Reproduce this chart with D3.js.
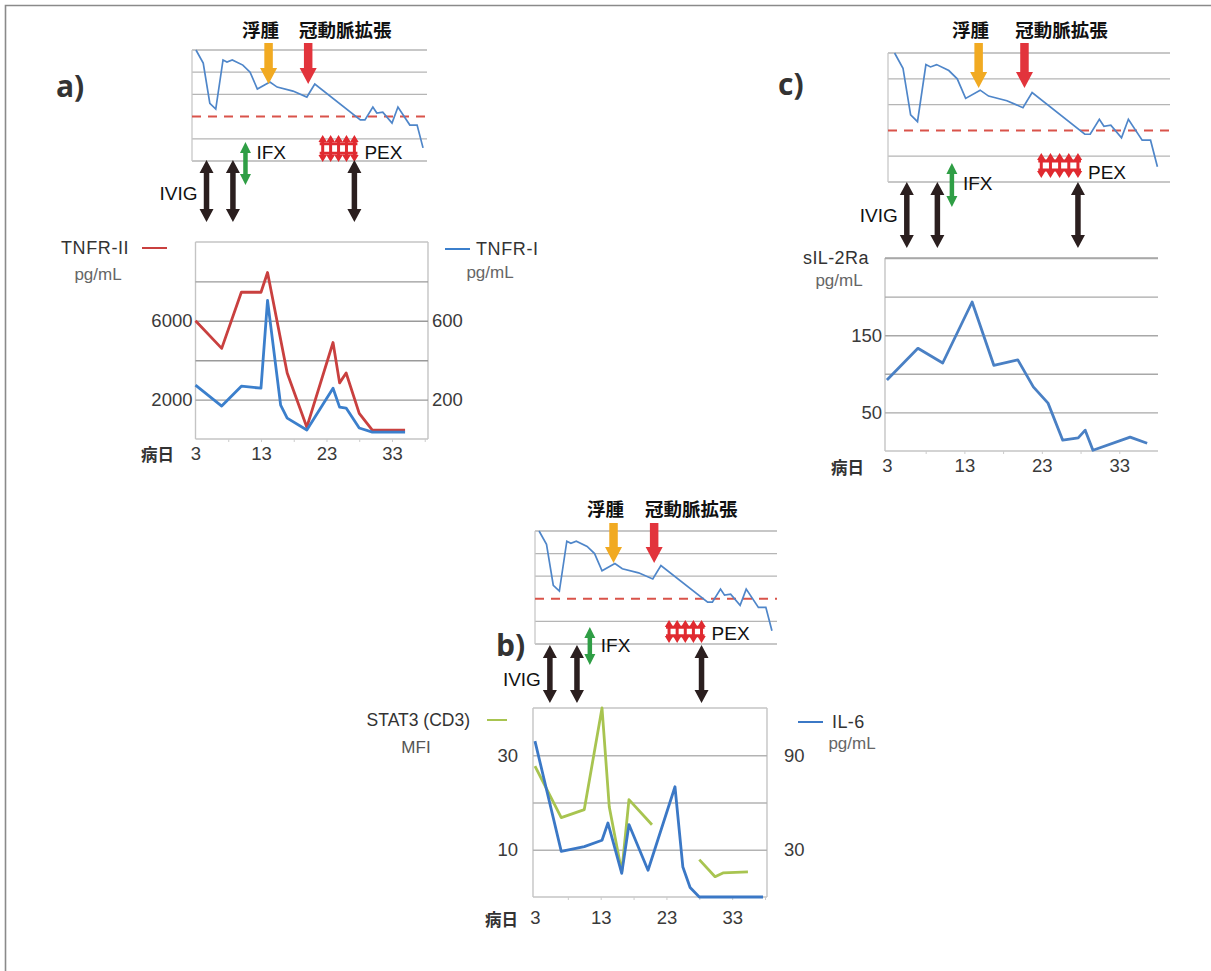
<!DOCTYPE html>
<html>
<head>
<meta charset="utf-8">
<script src="https://cdn.jsdelivr.net/npm/d3@7"></script>
<style>
  body { margin: 0; background: #fff; }
  svg text { font-family: "Liberation Sans", Arial, sans-serif; }
  svg text.jp { font-family: "Noto Sans CJK JP", sans-serif; font-weight: bold; }
  svg text.panel { font-family: "Open Sans", sans-serif; font-weight: bold; }
</style>
</head>
<body>
<svg id="chart" width="1211" height="971"></svg>
<script>

// clinical course strip (same in every panel), arbitrary units 0-5, cut-off at 2
var courseDays = [3, 4.1, 5.1, 6, 7.1, 7.7, 8.5, 10.1, 11.2, 12.3, 14.2, 15.3, 17.7, 19.8, 21, 27.9, 28.6, 29.8, 30.4, 31.3, 32.7, 33.6, 35.4, 36.5, 37.4];
var courseVals = [5.0, 4.41, 2.6, 2.34, 4.55, 4.46, 4.55, 4.32, 4.0, 3.24, 3.56, 3.33, 3.15, 2.88, 3.47, 1.85, 1.85, 2.43, 2.16, 2.2, 1.71, 2.43, 1.62, 1.62, 0.59];
var courseGrid = [0, 1, 3, 4, 5];
var courseCut = 2;

// treatment / event days
var edemaDay = 14;
var coronaryDay = 20;
var ifxDay = 10.5;
var ivigDays = [4.6, 8.6, 27];
var pexDays = [22.2, 23.4, 24.6, 25.8, 27];

var dayTicks = [3, 13, 23, 33];

// a) TNFR-II / TNFR-I
var tnfr2Days = [3, 7, 10, 13, 14, 17, 20, 24, 25, 26, 28, 30, 35];
var tnfr2Vals = [6000, 4600, 7450, 7450, 8450, 3350, 600, 4900, 2850, 3350, 1300, 450, 450];
var tnfr1Days = [3, 7, 10, 13, 14, 16, 17, 20, 24, 25, 26, 28, 30, 35];
var tnfr1Vals = [273, 167, 268, 258, 704, 172, 106, 46, 258, 162, 157, 56, 35, 35];
var tnfr2Ticks = [2000, 6000];
var tnfr2Grid = [2000, 4000, 6000, 8000];
var tnfr1Ticks = [200, 600];

// c) sIL-2Ra
var il2raDays = [3, 7, 10.2, 14, 16.8, 19.9, 21.9, 23.8, 25.7, 27.7, 28.6, 29.6, 34.4, 36.6];
var il2raVals = [92, 133, 114, 193, 111, 118, 83, 62, 14, 17, 27, 1, 18, 10];
var il2raTicks = [50, 150];
var il2raGrid = [50, 100, 150, 200, 250];

// b) STAT3 (CD3) MFI / IL-6
var stat3Days = [3, 7, 10.5, 13.2, 14.3, 16.2, 17.3, 20.8, 24, 28, 30.4, 31.6, 35.4];
var stat3Vals = [27.7, 16.8, 18.5, 40, 19.1, 5.3, 20.6, 15.3, null, 7.9, 4.3, 5.1, 5.3];
var il6Days = [3, 7, 10.5, 13.2, 14.1, 16.2, 17.3, 20.2, 24.3, 25.5, 26.6, 28, 37.7];
var il6Vals = [99, 29, 32, 36, 47, 15, 46, 17, 70, 19, 6, 0, 0];
var stat3Ticks = [10, 30];
var stat3Grid = [10, 20, 30];
var il6Ticks = [30, 90];

var svg = d3.select("#chart");

// frame (top and left only)
svg.append("path").attr("d", "M5.5,972 V5.5 H1211")
  .attr("fill", "none").attr("stroke", "#8a8a8a").attr("stroke-width", 1.6);

function zip(xs, ys) {
  return xs.map(function (d, i) { return { x: d, y: ys[i] }; });
}

function downArrow(g, x, y0, y1, color, sw, hw, hl) {
  var p = [[x - sw / 2, y0], [x + sw / 2, y0], [x + sw / 2, y1 - hl], [x + hw / 2, y1 - hl],
           [x, y1], [x - hw / 2, y1 - hl], [x - sw / 2, y1 - hl]];
  g.append("path").attr("d", "M" + p.join("L") + "Z").attr("fill", color);
}

function dblArrow(g, x, y0, y1, color, sw, hw, hl) {
  var p = [[x, y0], [x + hw / 2, y0 + hl], [x + sw / 2, y0 + hl], [x + sw / 2, y1 - hl],
           [x + hw / 2, y1 - hl], [x, y1], [x - hw / 2, y1 - hl], [x - sw / 2, y1 - hl],
           [x - sw / 2, y0 + hl], [x - hw / 2, y0 + hl]];
  g.append("path").attr("d", "M" + p.join("L") + "Z").attr("fill", color);
}

function label(g, x, y, txt, opts) {
  opts = opts || {};
  return g.append("text").attr("x", x).attr("y", y)
    .attr("dy", "0.36em")
    .attr("text-anchor", opts.anchor || "start")
    .attr("font-size", opts.size || 17)
    .attr("fill", opts.color || "#333")
    .attr("class", opts.cls || null)
    .text(txt);
}

// top strip with the clinical course and the treatment arrows
function drawCourse(c) {
  var g = svg.append("g");
  var x = d3.scaleLinear().domain([2.4, 38]).range(c.range);
  var y = d3.scaleLinear().domain([0, 5]).range([c.bottom, c.top]);

  courseGrid.forEach(function (v) {
    g.append("line").attr("x1", c.grid[0]).attr("x2", c.grid[1])
      .attr("y1", y(v)).attr("y2", y(v))
      .attr("stroke", "#b5b5b5").attr("stroke-width", 1.3);
  });
  g.append("line").attr("x1", c.grid[0]).attr("x2", c.grid[0])
    .attr("y1", c.top).attr("y2", c.bottom).attr("stroke", "#c8c8c8").attr("stroke-width", 1.3);
  g.append("line").attr("x1", c.grid[0]).attr("x2", c.grid[1])
    .attr("y1", y(courseCut)).attr("y2", y(courseCut))
    .attr("stroke", "#d9534a").attr("stroke-width", 2).attr("stroke-dasharray", "9,7");

  g.append("path").datum(zip(courseDays, courseVals))
    .attr("fill", "none").attr("stroke", "#4f86c9").attr("stroke-width", 1.7)
    .attr("d", d3.line().x(function (d) { return x(d.x); }).y(function (d) { return y(d.y); }));

  // event arrows
  downArrow(g, x(edemaDay), c.arrow[0], c.arrow[1], "#f1aa22", 8.5, 17, 16);
  downArrow(g, x(coronaryDay), c.arrow[0], c.arrow[1], "#e2343c", 8.5, 17, 16);
  label(g, x(edemaDay) - 8, c.labelY, "浮腫", { anchor: "middle", size: 18.5, color: "#111", cls: "jp" });
  label(g, x(coronaryDay) + 37, c.labelY, "冠動脈拡張", { anchor: "middle", size: 18.5, color: "#111", cls: "jp" });

  // IFX
  dblArrow(g, x(ifxDay), c.ifx[0], c.ifx[1], "#2f9e45", 4.5, 11, 11);
  label(g, x(ifxDay) + 11, c.ifxTextY, "IFX", { size: 19, color: "#111" });

  // PEX fence
  pexDays.forEach(function (d) {
    dblArrow(g, x(d), c.pex[0], c.pex[1], "#e02a30", 3, 8.5, 7);
  });
  var pa = x(pexDays[0]) - 3, pb = x(pexDays[pexDays.length - 1]) + 3;
  var ph = c.pex[1] - c.pex[0];
  [0.32, 0.68].forEach(function (f) {
    g.append("line").attr("x1", pa).attr("x2", pb)
      .attr("y1", c.pex[0] + ph * f).attr("y2", c.pex[0] + ph * f)
      .attr("stroke", "#e02a30").attr("stroke-width", 3);
  });
  label(g, pb + 7, c.pexTextY, "PEX", { size: 19, color: "#111" });

  // IVIG
  ivigDays.forEach(function (d) {
    dblArrow(g, x(d), c.ivig[0], c.ivig[1], "#2b1f1f", 5.5, 14, 13);
  });
  label(g, x(ivigDays[0]) - 9, c.ivigTextY, "IVIG", { anchor: "end", size: 19, color: "#111" });

  label(g, c.panel[0], c.panel[1], c.name, { size: 30, color: "#333", cls: "panel" });
}

drawCourse({ name: "a)", panel: [56, 86], range: [192, 427], grid: [192, 427], top: 50, bottom: 161,
  labelY: 30, arrow: [43, 84], ifx: [142, 185], ifxTextY: 152, pex: [135, 162], pexTextY: 152,
  ivig: [160, 222], ivigTextY: 193 });
drawCourse({ name: "c)", panel: [778, 84], range: [890, 1162], grid: [888, 1170], top: 53, bottom: 182,
  labelY: 30, arrow: [43, 88], ifx: [163, 207], ifxTextY: 183, pex: [153, 178], pexTextY: 172,
  ivig: [182, 248], ivigTextY: 215 });
drawCourse({ name: "b)", panel: [496, 645], range: [535, 776], grid: [535, 777], top: 531, bottom: 644,
  labelY: 509, arrow: [523, 563], ifx: [627, 665], ifxTextY: 645, pex: [620, 643], pexTextY: 633,
  ivig: [645, 703], ivigTextY: 679 });

// generic lower chart
function drawMain(c) {
  var g = svg.append("g");
  var x = d3.scaleLinear().domain(c.xDomain).range([c.left, c.right]);
  var yL = d3.scaleLinear().domain(c.yL).range([c.bottom, c.top]);
  var yR = c.yR ? d3.scaleLinear().domain(c.yR).range([c.bottom, c.top]) : null;

  // frame
  g.append("line").attr("x1", c.left).attr("x2", c.left).attr("y1", c.top).attr("y2", c.bottom)
    .attr("stroke", "#c4c4c4").attr("stroke-width", 1.4);
  if (yR) {
    g.append("line").attr("x1", c.right).attr("x2", c.right).attr("y1", c.top).attr("y2", c.bottom)
      .attr("stroke", "#c4c4c4").attr("stroke-width", 1.4);
  }
  g.append("line").attr("x1", c.left).attr("x2", c.right).attr("y1", c.top).attr("y2", c.top)
    .attr("stroke", c.topColor || "#c4c4c4").attr("stroke-width", 1.4);
  g.append("line").attr("x1", c.left).attr("x2", c.right).attr("y1", c.bottom).attr("y2", c.bottom)
    .attr("stroke", "#c4c4c4").attr("stroke-width", 1.4);

  // gridlines
  g.append("g").attr("transform", "translate(" + c.left + ",0)")
    .call(d3.axisLeft(yL).tickValues(c.grid).tickSize(-(c.right - c.left)).tickFormat(""))
    .call(function (a) { a.select(".domain").remove(); })
    .selectAll("line").attr("stroke", c.gridColor).attr("stroke-width", 1.4);

  // small x ticks
  g.append("g").attr("transform", "translate(0," + c.bottom + ")")
    .call(d3.axisBottom(x).tickValues(d3.range(8, c.xDomain[1], 5)).tickSize(3).tickFormat(""))
    .call(function (a) { a.select(".domain").remove(); })
    .selectAll("line").attr("stroke", "#ccc");

  // tick labels
  function styleTicks(a) {
    a.select(".domain").remove();
    a.selectAll("text").attr("font-size", 18.5).attr("fill", "#3a3a3a")
      .attr("font-family", "Liberation Sans, Arial, sans-serif");
  }
  g.append("g").attr("transform", "translate(" + c.left + ",0)")
    .call(d3.axisLeft(yL).tickValues(c.lTicks).tickSize(0).tickPadding(c.lPad).tickFormat(d3.format("d")))
    .call(styleTicks);
  if (yR) {
    g.append("g").attr("transform", "translate(" + c.right + ",0)")
      .call(d3.axisRight(yR).tickValues(c.rTicks).tickSize(0).tickPadding(c.rPad).tickFormat(d3.format("d")))
      .call(styleTicks);
  }
  g.append("g").attr("transform", "translate(0," + c.bottom + ")")
    .call(d3.axisBottom(x).tickValues(dayTicks).tickSize(0).tickPadding(c.bPad).tickFormat(d3.format("d")))
    .call(styleTicks);
  label(g, c.dayLabel[0], c.dayLabel[1], "病日", { anchor: "end", size: 16.5, color: "#333", cls: "jp" });

  // series
  c.series.forEach(function (s) {
    var sy = s.axis === "R" ? yR : yL;
    g.append("path").datum(zip(s.days, s.vals))
      .attr("fill", "none").attr("stroke", s.color).attr("stroke-width", 2.8)
      .attr("stroke-linejoin", "round")
      .attr("d", d3.line().defined(function (d) { return d.y != null; })
        .x(function (d) { return x(d.x); }).y(function (d) { return sy(d.y); }));
  });
  return g;
}

// a)
var ga = drawMain({ xDomain: [3, 38.5], left: 195.5, right: 428, top: 242, bottom: 439,
  yL: [0, 10000], yR: [0, 1000], grid: tnfr2Grid, gridColor: "#9a9a9a",
  lTicks: tnfr2Ticks, rTicks: tnfr1Ticks, lPad: 3, rPad: 4, bPad: 8, dayLabel: [174, 455],
  series: [
    { days: tnfr2Days, vals: tnfr2Vals, axis: "L", color: "#c9403f" },
    { days: tnfr1Days, vals: tnfr1Vals, axis: "R", color: "#3b7fcc" }
  ] });
label(ga, 61, 248, "TNFR-II", { size: 18, color: "#333" }).attr("letter-spacing", "0.6");
ga.append("line").attr("x1", 142).attr("x2", 167).attr("y1", 248).attr("y2", 248)
  .attr("stroke", "#c9403f").attr("stroke-width", 2);
label(ga, 98, 274, "pg/mL", { anchor: "middle", size: 17, color: "#666" });
ga.append("line").attr("x1", 445).attr("x2", 470).attr("y1", 249).attr("y2", 249)
  .attr("stroke", "#3b7fcc").attr("stroke-width", 2);
label(ga, 476, 249, "TNFR-I", { size: 18, color: "#333" }).attr("letter-spacing", "0.6");
label(ga, 490, 272, "pg/mL", { anchor: "middle", size: 17, color: "#666" });

// c)
var gc = drawMain({ xDomain: [2.75, 38], left: 885, right: 1158, top: 258, bottom: 451,
  yL: [0, 250], grid: il2raGrid, gridColor: "#a8a8a8", topColor: "#a8a8a8",
  lTicks: il2raTicks, lPad: 3, bPad: 8, dayLabel: [864, 468],
  series: [ { days: il2raDays, vals: il2raVals, axis: "L", color: "#4a80c4" } ] });
label(gc, 803, 258, "sIL-2Ra", { size: 18, color: "#333" }).attr("letter-spacing", "0.4");
label(gc, 839, 280, "pg/mL", { anchor: "middle", size: 17, color: "#666" });

// b)
var gb = drawMain({ xDomain: [2.7, 38.3], left: 533, right: 767, top: 708, bottom: 897,
  yL: [0, 40], yR: [0, 120], grid: stat3Grid, gridColor: "#b3b3b3",
  lTicks: stat3Ticks, rTicks: il6Ticks, lPad: 15, rPad: 17, bPad: 14, dayLabel: [518, 920],
  series: [
    { days: stat3Days, vals: stat3Vals, axis: "L", color: "#a8c450" },
    { days: il6Days, vals: il6Vals, axis: "R", color: "#3b78c6" }
  ] });
label(gb, 470, 720, "STAT3 (CD3)", { anchor: "end", size: 17.5, color: "#333" });
gb.append("line").attr("x1", 487).attr("x2", 507).attr("y1", 720).attr("y2", 720)
  .attr("stroke", "#a8c450").attr("stroke-width", 2);
label(gb, 416, 747, "MFI", { anchor: "middle", size: 17, color: "#555" });
gb.append("line").attr("x1", 798).attr("x2", 823).attr("y1", 722).attr("y2", 722)
  .attr("stroke", "#3b78c6").attr("stroke-width", 2);
label(gb, 832, 722, "IL-6", { size: 18, color: "#333" }).attr("letter-spacing", "0.4");
label(gb, 852, 743, "pg/mL", { anchor: "middle", size: 17, color: "#666" });

</script>
</body>
</html>
